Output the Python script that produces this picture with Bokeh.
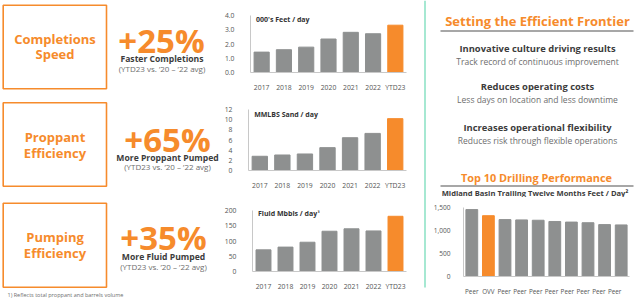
from bokeh.plotting import figure
from bokeh.layouts import row, column
from bokeh.models import Range1d, FactorRange, FixedTicker, NumeralTickFormatter, Label, ColumnDataSource
from bokeh.core.properties import value
from bokeh.embed import file_html
from bokeh.resources import INLINE

# ---------------- data ----------------
years = ["2017", "2018", "2019", "2020", "2021", "2022", "YTD23"]
completion_speed = [1.43, 1.60, 1.78, 2.35, 2.82, 2.72, 3.32]      # 000's feet / day
proppant = [2.8, 3.05, 3.25, 4.5, 6.45, 7.3, 10.2]                  # MMLBS sand / day
fluid = [71, 80, 96, 132, 140, 133, 181]                            # Fluid Mbbls / day
peers = ["Peer", "OVV", "Peer ", "Peer  ", "Peer   ", "Peer    ", "Peer     ",
         "Peer      ", "Peer       ", "Peer        "]
peer_labels = ["Peer", "OVV", "Peer", "Peer", "Peer", "Peer", "Peer", "Peer", "Peer", "Peer"]
drilling = [1455, 1322, 1237, 1230, 1223, 1196, 1183, 1169, 1128, 1121]  # feet / day

ticks_speed = [0, 1, 2, 3, 4]
ticks_prop = [0, 2, 4, 6, 8, 10, 12]
ticks_fluid = [0, 50, 100, 150, 200]
ticks_drill = [0, 500, 1000, 1500]

ORANGE = "#F68B2C"
GRAY = "#8E9090"
MINT = "#A6E8D2"
DARK = "#3C3C3C"
MID = "#6E6E6E"
FONT = "Open Sans"
TW = 221   # width of left text panels
CW = 199   # width of left chart panels


def canvas(w, h):
    p = figure(width=w, height=h, x_range=Range1d(0, w), y_range=Range1d(h, 0),
               output_backend="svg", toolbar_location=None, title=None,
               x_axis_location=None, y_axis_location=None, min_border=0,
               frame_align=False)
    p.grid.visible = False
    p.outline_line_color = None
    p.background_fill_color = "white"
    p.border_fill_color = "white"
    return p


def txt(p, x, y, s, size, color, bold=False, align="center"):
    p.text(x=[x], y=[y], text=[s], text_font=value(FONT), text_font_size=size,
           text_font_style="bold" if bold else "normal", text_color=color,
           text_align=align, text_baseline="middle")


def text_panel(h, box_top, box_bot, l1, l2, ly1, ly2, pct, pct_x, pct_y, sub, sub_x, sub_y, paren_y):
    p = canvas(TW, h)
    p.quad(left=[2.7], right=[106], top=[box_top], bottom=[box_bot], fill_color=None,
           line_color=ORANGE, line_width=1.6)
    txt(p, 54.5, ly1, l1, "13px", ORANGE, True)
    txt(p, 54.5, ly2, l2, "13px", ORANGE, True)
    txt(p, pct_x, pct_y, pct, "33px", ORANGE, True)
    txt(p, sub_x, sub_y, sub, "8.6px", DARK, True)
    txt(p, sub_x, paren_y, "(YTD23 vs. \u201920 \u2013 \u201922 avg)", "8px", MID)
    return p


def bar_chart(cats, labels_map, vals, highlight, w, h, top, bottom, left, right,
              ymax, ticks, fmt, title, title_x, title_y, bar_w, xlabel_size, ylabel_size, standoff):
    colors = [ORANGE if c == highlight else GRAY for c in cats]
    src = ColumnDataSource(dict(x=cats, top=vals, color=colors))
    p = figure(x_range=FactorRange(*cats), y_range=Range1d(0, ymax), width=w, height=h,
               output_backend="svg", toolbar_location=None, title=None,
               min_border_top=top, min_border_bottom=bottom,
               min_border_left=left, min_border_right=right, frame_align=False)
    p.vbar(x="x", top="top", width=bar_w, color="color", source=src)
    p.grid.visible = False
    p.outline_line_color = None
    p.background_fill_color = "white"
    p.border_fill_color = "white"
    for ax in (p.xaxis[0], p.yaxis[0]):
        ax.major_tick_line_color = None
        ax.minor_tick_line_color = None
        ax.axis_line_color = "#C8C8C8"
        ax.major_label_text_font = FONT
        ax.major_label_text_color = "#555555"
    p.xaxis.major_label_text_font_size = xlabel_size
    p.yaxis.major_label_text_font_size = ylabel_size
    p.xaxis.major_label_standoff = 4
    p.yaxis.major_label_standoff = standoff
    p.yaxis.ticker = FixedTicker(ticks=ticks)
    p.yaxis.formatter = NumeralTickFormatter(format=fmt)
    if labels_map:
        p.xaxis.major_label_overrides = labels_map
    if title:
        p.add_layout(Label(x=title_x, y=title_y, text=title, text_font=FONT,
                           text_font_size="7px", text_font_style="bold",
                           text_color="#333333", text_baseline="middle"))
    return p


def sep():
    p = canvas(420, 4)
    p.segment(x0=[10], y0=[2], x1=[405], y1=[2], line_color=MINT, line_width=1.5)
    return p


# ---------------- left side ----------------
t1 = text_panel(94, 4.7, 88.3, "Completions", "Speed", 38.3, 53.3,
                "+25%", 161, 39.5, "Faster Completions", 161.5, 58.3, 68.3)
c1 = bar_chart(years, None, completion_speed, "YTD23", CW, 94, 15, 18, 23, 14,
               4, ticks_speed, "0.0", "000's Feet / day", 0.25, 3.72, 0.68, "6.8px", "6.8px", 10)

t2 = text_panel(94, 4.3, 87.7, "Proppant", "Efficiency", 38.7, 54.3,
                "+65%", 167, 41, "More Proppant Pumped", 167, 59.7, 68)
c2 = bar_chart(years, None, proppant, "YTD23", CW, 94, 11, 21, 23, 14,
               12, ticks_prop, "0", "MMLBS Sand / day", 0.25, 11.05, 0.68, "6.8px", "6.8px", 10)

t3 = text_panel(102, 6.7, 90.7, "Pumping", "Efficiency", 40.7, 56.7,
                "+35%", 163, 40.7, "More Fluid Pumped", 163, 60.7, 70)
txt(t3, 7, 98.2, "1) Reflects total proppant and barrels volume", "5.5px", MID, align="left")
c3 = bar_chart(years, None, fluid, "YTD23", CW, 102, 14, 27, 23, 14,
               200, ticks_fluid, "0", "Fluid Mbbls / day\u00b9", 0.25, 189, 0.68, "6.8px", "6.8px", 10)

left = column(row(t1, c1), sep(), row(t2, c2), sep(), row(t3, c3))

# ---------------- right side ----------------
vl = canvas(8, 298)
vl.segment(x0=[4.5], y0=[0], x1=[4.5], y1=[287], line_color=MINT, line_width=2)

rt = canvas(212, 197)
txt(rt, 109, 20, "Setting the Efficient Frontier", "13px", ORANGE, True)
rt.segment(x0=[12], y0=[30.5], x1=[205], y1=[30.5], line_color="#8A8A8A", line_width=1.5)
txt(rt, 109, 47.5, "Innovative culture driving results", "9.4px", DARK, True)
txt(rt, 109, 61, "Track record of continuous improvement", "8.5px", MID)
txt(rt, 109, 86, "Reduces operating costs", "9.4px", DARK, True)
txt(rt, 109, 99, "Less days on location and less downtime", "8.5px", MID)
txt(rt, 109, 126.5, "Increases operational flexibility", "9.4px", DARK, True)
txt(rt, 109, 139.5, "Reduces risk through flexible operations", "8.5px", MID)
txt(rt, 108, 177, "Top 10 Drilling Performance", "10.9px", ORANGE, True)
rt.segment(x0=[12], y0=[185.5], x1=[205], y1=[185.5], line_color="#8A8A8A", line_width=1.5)
txt(rt, 106.5, 192.5, "Midland Basin Trailing Twelve Months Feet / Day\u00b2", "7.6px", DARK, True)

rc = bar_chart(peers, {c: l for c, l in zip(peers, peer_labels)}, drilling, "OVV",
               212, 101, 10, 18, 35, 11, 1500, ticks_drill, "0,0", None, 0, 0, 0.71,
               "6.3px", "6.6px", 7)

right = row(vl, column(rt, rc))

p = row(left, right)

open("out.html", "w").write(file_html(p, INLINE))
